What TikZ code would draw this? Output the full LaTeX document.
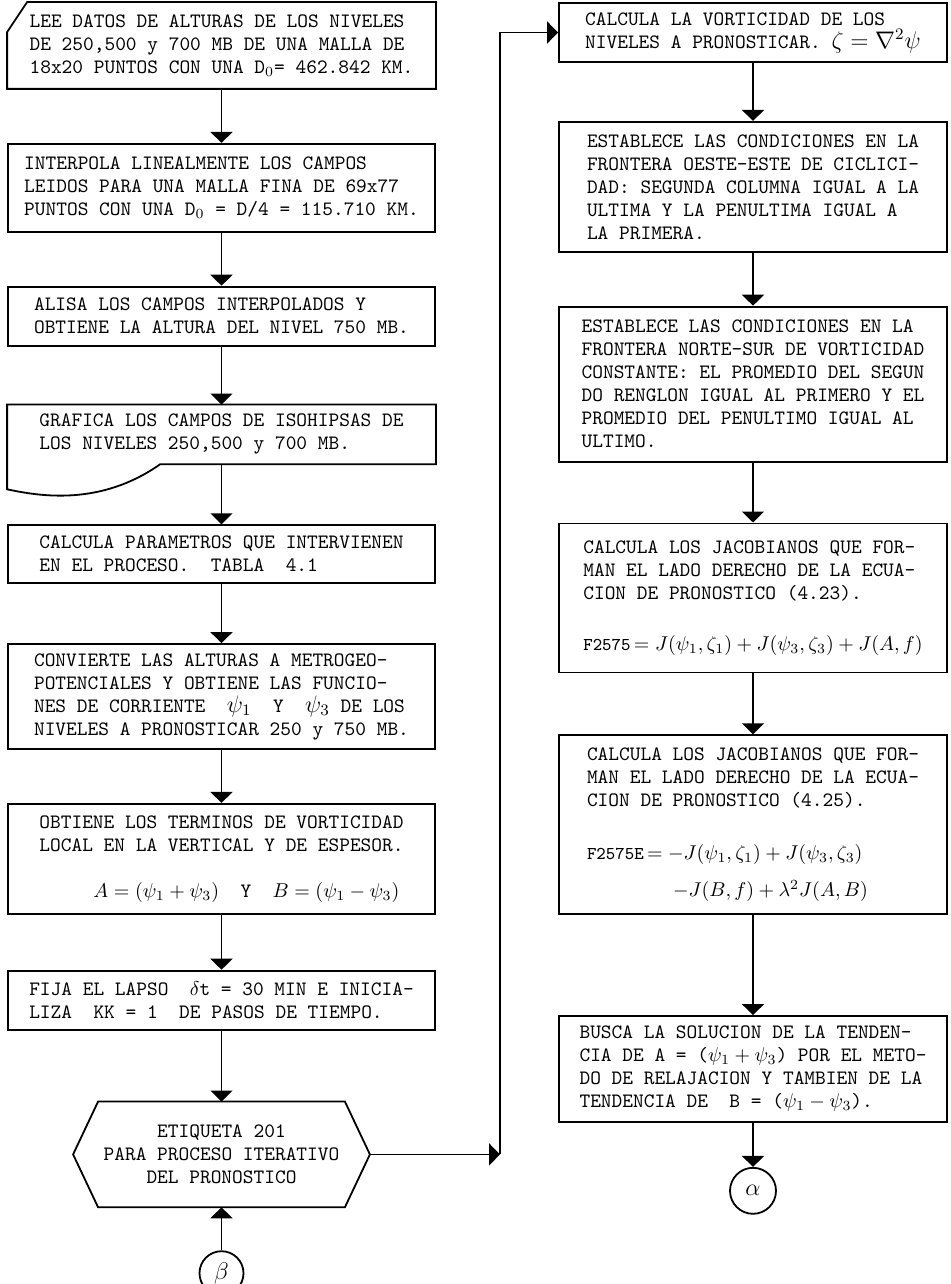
\documentclass[tikz,border=0pt]{standalone}
\usepackage{fontspec}
\usepackage{amsmath}
\usetikzlibrary{positioning, arrows.meta}

\begin{document}
\begin{tikzpicture}[> = {Triangle[width=11pt,length=5.5pt]}, % arrow head style
                node distance = 27pt, % distance between nodes
                line width = 0.9pt % line style
            ]

            \tikzstyle{every node}=[font=\ttfamily\fontsize{10.2}{11.5}\selectfont,
            align=left, inner sep = 2pt]
            \tikzstyle{caja}=[draw, rectangle, minimum width = 213.5pt]
            \tikzstyle{cajad}=[draw, rectangle, minimum width = 194pt]
            \tikzstyle{libre}=[rectangle, minimum width = 213.5pt]
            \tikzstyle{circulo}=[draw, circle, minimum size = 22pt, inner sep = 0pt,
            font=\large]

            \useasboundingbox (0,0) rectangle (475pt,-642pt);

            % columna izquierda
            \node (1) [libre, minimum height = 42.5pt] at (110.75pt,-22.75pt)
            {LEE DATOS DE ALTURAS DE LOS NIVELES\\ DE 250,500 y 700 MB DE UNA MALLA DE\\
             18x20 PUNTOS CON UNA D$_0$= 462.842 KM.};
            \node (2) [caja, minimum height = 44pt, below = 27pt of 1]
            {INTERPOLA LINEALMENTE LOS CAMPOS\\ LEIDOS PARA UNA MALLA FINA DE 69x77\\
             PUNTOS CON UNA D$_0$ = D/4 = 115.710 KM.};
            \node (3) [caja, minimum height = 29.5pt, below = 26.5pt of 2]
            {ALISA LOS CAMPOS INTERPOLADOS Y\\ OBTIENE LA ALTURA DEL NIVEL 750 MB.};
            \node (4) [libre, minimum height = 29pt, below = 29pt of 3]
            {GRAFICA LOS CAMPOS DE ISOHIPSAS DE\\ LOS NIVELES 250,500 y 700 MB.};
            \node (5) [caja, minimum height = 29pt, below = 30pt of 4]
            {CALCULA PARAMETROS QUE INTERVIENEN\\ EN EL PROCESO.~~TABLA~~4.1};
            \node (6) [caja, minimum height = 52.5pt, below = 29.5pt of 5]
            {CONVIERTE LAS ALTURAS A METROGEO-\\ POTENCIALES Y OBTIENE LAS FUNCIO-\\
             NES DE CORRIENTE~~{\large$\psi_1$}~~Y~~{\large$\psi_3$} DE LOS\\
             NIVELES A PRONOSTICAR 250 y 750 MB.};
            \node (7) [caja, minimum height = 55pt, below = 26.5pt of 6]
            {OBTIENE LOS TERMINOS DE VORTICIDAD\\ LOCAL EN LA VERTICAL Y DE ESPESOR.\\[11.5pt]
             \hspace*{27pt}$A=(\psi_1+\psi_3)$~~Y~~$B=(\psi_1-\psi_3)$};
            \node (8) [caja, minimum height = 29.5pt, below = 27.5pt of 7]
            {FIJA EL LAPSO~~$\delta$t = 30 MIN E INICIA-\\ LIZA~~KK = 1~~DE PASOS DE TIEMPO.};
            \node (9) [minimum width = 122.5pt, minimum height = 52pt, align = center,
            below = 35.5pt of 8]
            {ETIQUETA 201\\ PARA PROCESO ITERATIVO\\ DEL PRONOSTICO};
            \node (10) [circulo, below = 21.5pt of 9] {$\beta$};

            % columna derecha
            \node (11) [cajad, minimum height = 29.5pt] at (376.5pt,-16.25pt)
            {CALCULA LA VORTICIDAD DE LOS\\ NIVELES A PRONOSTICAR. {\large$\zeta=\nabla^2\psi$}};
            \node (12) [cajad, minimum height = 65pt, below = 29pt of 11]
            {ESTABLECE LAS CONDICIONES EN LA\\ FRONTERA OESTE-ESTE DE CICLICI-\\
             DAD: SEGUNDA COLUMNA IGUAL A LA\\ ULTIMA Y LA PENULTIMA IGUAL A\\ LA PRIMERA.};
            \node (13) [cajad, minimum height = 77.5pt, below = 26.5pt of 12]
            {ESTABLECE LAS CONDICIONES EN LA\\ FRONTERA NORTE-SUR DE VORTICIDAD\\
             CONSTANTE: EL PROMEDIO DEL SEGUN\\ DO RENGLON IGUAL AL PRIMERO Y EL\\
             PROMEDIO DEL PENULTIMO IGUAL AL\\ ULTIMO.};
            \node (14) [cajad, minimum height = 74.5pt, below = 30pt of 13]
            {CALCULA LOS JACOBIANOS QUE FOR-\\ MAN EL LADO DERECHO DE LA ECUA-\\
             CION DE PRONOSTICO (4.23).\\[14pt]
             {\small F2575}$\,=J(\psi_1,\zeta_1)+J(\psi_3,\zeta_3)+J(A,f)$};
            \node (15) [cajad, minimum height = 89.5pt, below = 30.5pt of 14]
            {CALCULA LOS JACOBIANOS QUE FOR-\\ MAN EL LADO DERECHO DE LA ECUA-\\
             CION DE PRONOSTICO (4.25).\\[15pt]
             {\small F2575E}$\,=-J(\psi_1,\zeta_1)+J(\psi_3,\zeta_3)$\\[7pt]
             \hspace*{43pt}$-J(B,f)+\lambda^2J(A,B)$};
            \node (16) [cajad, minimum height = 53pt, below = 50pt of 15]
            {BUSCA LA SOLUCION DE LA TENDEN-\\ CIA DE A = ($\psi_1+\psi_3$) POR EL METO-\\
             DO DE RELAJACION Y TAMBIEN DE LA\\ TENDENCIA DE~~B = ($\psi_1-\psi_3$).};
            \node (17) [circulo, minimum size = 23pt, below = 22pt of 16] {$\alpha$};

            % contornos especiales
            \draw ([xshift=10pt]1.north west) -- (1.north east) -- (1.south east)
            -- (1.south west) -- ([yshift=-15pt]1.north west) -- cycle;
            \draw (4.north west) -- (4.north east) -- (4.south east)
            -- ([xshift=76.5pt]4.south west) .. controls ([xshift=46.5pt,yshift=-21pt]4.south west)
            and ([xshift=16.5pt,yshift=-16pt]4.south west) .. ([yshift=-12.5pt]4.south west) -- cycle;
            \coordinate (9e) at ([xshift=12.5pt]9.east);
            \coordinate (9w) at ([xshift=-12.5pt]9.west);
            \draw (9.north west) -- (9.north east) -- (9e) -- (9.south east)
            -- (9.south west) -- (9w) -- cycle;

            \path[->] (1) edge (2); \path[->] (2) edge (3); \path[->] (3) edge (4);
            \path[->] (4) edge (5); \path[->] (5) edge (6); \path[->] (6) edge (7);
            \path[->] (7) edge (8); \path[->] (8) edge (9); \path[->] (10) edge (9);
            \path[->] (11) edge (12); \path[->] (12) edge (13); \path[->] (13) edge (14);
            \path[->] (14) edge (15); \path[->] (15) edge (16); \path[->] (16) edge (17);

            \coordinate (esq) at (250pt,0 |- 9e);
            \draw[->] (9e) -- (esq);
            \draw[->] (esq) |- (11.west);
        \end{tikzpicture}
\end{document}
